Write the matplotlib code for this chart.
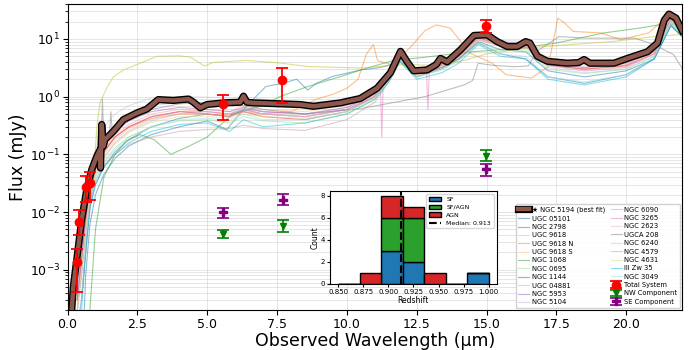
import numpy as np
import matplotlib
matplotlib.use("Agg")
import matplotlib.pyplot as plt
import matplotlib.patheffects as pe

# ---------------- data ----------------
bf_wave = [0.15, 0.21, 0.33, 0.51, 0.69, 0.87, 1.05, 1.165, 1.18, 1.225, 1.28, 1.34, 1.64, 2.0, 2.48,
           2.84, 3.25, 3.79, 4.33, 4.51, 4.75, 4.99, 5.58, 6.18, 6.30, 6.42, 6.66, 8.33, 8.80, 9.77,
           10.48, 11.08, 11.56, 11.92, 12.16, 12.39, 12.87, 13.20, 13.35, 13.59, 14.07, 14.55, 15.02,
           15.38, 15.74, 16.10, 16.40, 16.55, 16.82, 17.18, 17.89, 18.30, 18.49, 18.70, 19.56, 20.04,
           20.76, 21.12, 21.36, 21.53, 21.78, 22.0]
bf_flux = [2.0e-4, 5.2e-4, 1.5e-3, 7.5e-3, 0.025, 0.055, 0.093, 0.12, 0.058, 0.33, 0.138, 0.18, 0.25,
           0.40, 0.52, 0.61, 0.89, 0.86, 0.91, 0.80, 0.64, 0.73, 0.78, 0.80, 1.02, 0.80, 0.78, 0.73,
           0.68, 0.78, 0.93, 1.4, 2.6, 6.1, 4.0, 2.8, 2.9, 3.6, 4.6, 4.0, 6.5, 11.5, 11.8, 9.0, 7.4,
           7.4, 9.0, 8.5, 5.0, 4.1, 3.8, 3.9, 4.4, 3.8, 3.8, 4.6, 6.0, 8.5, 21.0, 27.0, 23.0, 14.0]

tmpl_wave = [0.35, 0.5, 0.65, 0.8, 1.0, 1.3, 1.7, 2.2, 3.0, 4.0, 5.0, 5.8, 6.3, 7.0, 8.5, 10.0, 11.0,
             11.5, 11.9, 12.5, 13.4, 14.0, 14.7, 15.5, 16.4, 17.2, 18.5, 20.0, 21.0, 21.6, 22.0]

ugc05101_wave = [0.6, 0.65, 0.8, 1.0, 1.3, 1.7, 2.2, 3.0, 4.0, 5.0, 5.7, 6.4, 7.1, 7.7, 8.2, 8.6, 8.9,
                 9.5, 10.5, 11.2, 11.9, 12.5, 13.4, 14.0, 14.7, 15.5, 16.4, 17.2, 18.5, 20.0, 21.0,
                 21.6, 22.0]
ugc05101_flux = [2e-4, 8e-4, 6e-3, 0.02, 0.045, 0.085, 0.14, 0.22, 0.30, 0.38, 0.27, 0.68, 1.5, 1.7,
                 2.0, 1.3, 1.7, 2.25, 2.9, 3.2, 4.0, 2.6, 3.2, 4.5, 8.5, 5.5, 4.5, 2.2, 1.7, 2.4, 4.5,
                 17.0, 11.0]
ngc2798_flux = [1e-4, 3e-4, 2e-3, 0.012, 0.03, 0.06, 0.11, 0.18, 0.30, 0.42, 0.50, 0.45, 0.60, 0.50,
                0.45, 0.60, 1.0, 2.0, 4.5, 2.2, 3.2, 4.5, 9.0, 6.5, 6.0, 2.8, 2.2, 2.8, 4.5, 17.0, 11.0]
ugc9618_flux = [2e-4, 8e-4, 5e-3, 0.02, 0.045, 0.09, 0.16, 0.25, 0.38, 0.50, 0.55, 0.50, 0.65, 0.55,
                0.50, 0.65, 1.0, 2.2, 5.0, 2.5, 3.5, 5.0, 10.0, 7.5, 7.0, 3.2, 2.6, 3.0, 5.0, 20.0, 13.0]
ugc9618n_wave = [0.35, 0.5, 0.65, 0.8, 1.0, 1.3, 1.7, 2.2, 3.0, 4.0, 5.0, 5.8, 6.3, 7.0, 8.0, 8.9, 9.5,
                 10.0, 10.4, 10.7, 10.95, 11.1, 11.6, 12.3, 12.8, 13.2, 13.7, 14.4, 15.2, 15.7, 16.6,
                 17.2, 17.4, 17.55, 17.8, 18.1, 19.1, 19.8, 20.8, 21.2, 21.6, 22.0]
ugc9618n_flux = [3e-4, 1.5e-3, 7e-3, 0.025, 0.055, 0.11, 0.20, 0.30, 0.42, 0.50, 0.50, 0.48, 0.55,
                 0.50, 0.55, 0.9, 1.1, 1.4, 2.0, 5.5, 8.0, 4.2, 3.6, 7.4, 14.0, 17.5, 15.4, 5.7, 3.8,
                 2.4, 2.1, 3.3, 9.7, 23.0, 18.8, 13.5, 12.7, 9.7, 12.7, 18.8, 22.0, 16.0]
ugc9618s_flux = [3e-4, 1.2e-3, 6e-3, 0.022, 0.05, 0.10, 0.18, 0.28, 0.42, 0.55, 0.60, 0.55, 0.70, 0.60,
                 0.55, 0.70, 1.1, 2.3, 5.0, 2.6, 3.6, 5.2, 10.0, 8.0, 8.0, 3.6, 3.0, 3.5, 5.5, 21.0, 14.0]
ngc1068_wave = [0.8, 1.0, 1.3, 1.7, 2.1, 2.6, 3.1, 3.7, 4.3, 5.0, 5.9, 6.9, 7.6, 8.6, 9.8, 10.5, 11.7,
                12.6, 13.5, 14.5, 16.2, 17.5, 19.2, 20.5, 21.2, 22.0]
ngc1068_flux = [2e-4, 5e-3, 0.04, 0.10, 0.17, 0.22, 0.18, 0.10, 0.135, 0.20, 0.50, 0.68, 1.0, 1.5, 2.25,
                2.9, 4.3, 4.7, 5.3, 6.0, 6.9, 8.5, 12.7, 15.5, 17.6, 18.5]
ngc0695_flux = [2e-4, 1e-3, 5e-3, 0.018, 0.04, 0.075, 0.13, 0.20, 0.30, 0.38, 0.40, 0.35, 0.45, 0.38,
                0.35, 0.50, 0.9, 1.8, 4.0, 2.2, 3.0, 4.2, 8.5, 6.5, 6.5, 3.0, 2.5, 3.0, 5.0, 19.0, 12.0]
ngc1144_flux = [3e-4, 1.5e-3, 7e-3, 0.025, 0.055, 0.11, 0.20, 0.30, 0.45, 0.55, 0.50, 0.45, 0.55, 0.45,
                0.40, 0.55, 1.0, 2.2, 5.5, 2.6, 3.5, 5.0, 10.5, 8.0, 7.5, 3.5, 3.0, 3.4, 5.5, 22.0, 14.0]
ugc04881_flux = [4e-4, 2e-3, 8e-3, 0.028, 0.06, 0.12, 0.22, 0.33, 0.50, 0.60, 0.55, 0.50, 0.60, 0.50,
                 0.45, 0.60, 1.05, 2.3, 5.5, 2.7, 3.6, 5.2, 11.0, 8.5, 8.0, 3.8, 3.2, 3.6, 6.0, 23.0, 15.0]
ngc5953_flux = [3e-4, 1.5e-3, 8e-3, 0.03, 0.07, 0.14, 0.25, 0.38, 0.55, 0.65, 0.60, 0.55, 0.65, 0.55,
                0.50, 0.65, 1.1, 2.4, 5.5, 2.7, 3.8, 5.5, 11.0, 8.5, 8.5, 3.8, 3.2, 3.8, 6.0, 22.0, 15.0]
ngc5104_flux = [4e-4, 2e-3, 1e-2, 0.035, 0.08, 0.16, 0.30, 0.45, 0.70, 0.80, 0.75, 0.70, 0.85, 0.70,
                0.65, 0.75, 1.1, 2.5, 5.8, 2.8, 4.0, 5.8, 11.5, 9.0, 8.5, 4.2, 3.6, 4.2, 6.0, 24.0, 16.0]
ngc6090_flux = [2e-4, 8e-4, 4e-3, 0.015, 0.035, 0.065, 0.10, 0.15, 0.20, 0.25, 0.27, 0.28, 0.32, 0.28,
                0.26, 0.40, 0.8, 1.8, 4.2, 2.2, 3.0, 4.5, 9.5, 7.5, 7.5, 3.5, 2.8, 3.2, 5.5, 20.0, 13.0]
ngc3265_wave = [0.35, 0.5, 0.65, 0.8, 1.0, 1.3, 1.7, 2.2, 3.0, 4.0, 5.0, 5.8, 6.3, 7.0, 8.5, 10.0, 11.0,
                11.2, 11.25, 11.3, 11.5, 11.9, 12.5, 12.85, 12.9, 12.95, 13.4, 14.0, 14.7, 15.5, 16.4,
                17.2, 18.5, 20.0, 21.0, 21.6, 22.0]
ngc3265_flux = [3e-4, 1.5e-3, 7e-3, 0.025, 0.055, 0.11, 0.20, 0.30, 0.45, 0.55, 0.55, 0.50, 0.60, 0.55,
                0.50, 0.60, 1.0, 1.5, 0.2, 1.6, 2.1, 5.0, 2.4, 2.6, 0.6, 2.7, 3.3, 4.8, 10.0, 8.0, 8.0,
                3.6, 3.0, 3.5, 5.5, 22.0, 14.0]
ngc2623_flux = [2e-4, 1e-3, 5e-3, 0.02, 0.045, 0.09, 0.16, 0.26, 0.40, 0.50, 0.50, 0.45, 0.55, 0.50,
                0.45, 0.60, 1.0, 2.1, 4.8, 2.4, 3.3, 4.8, 9.5, 7.5, 7.5, 3.4, 2.8, 3.3, 5.5, 21.0, 14.0]
ugca208_wave = [0.5, 0.7, 0.9, 1.0, 1.1, 1.2, 1.25, 1.3, 1.5, 1.55, 1.6, 2.0, 3.0, 4.0, 5.0, 6.0, 7.0,
                8.5, 10.5, 12.8, 14.2, 14.5, 14.7, 15.2, 16.0, 16.5, 16.8, 17.6, 18.6, 20.3, 21.0,
                21.7, 22.0]
ugca208_flux = [3e-4, 4e-3, 0.03, 0.07, 0.10, 0.12, 0.9, 0.15, 0.20, 0.55, 0.25, 0.35, 0.60, 0.75,
                0.80, 0.75, 0.60, 0.50, 0.62, 1.0, 1.6, 1.9, 3.8, 3.5, 3.3, 3.4, 6.1, 11.0, 10.3, 10.3,
                8.0, 5.3, 3.1]
ngc6240_flux = [5e-4, 3e-3, 0.015, 0.05, 0.12, 0.30, 0.50, 0.70, 0.95, 1.0, 0.98, 0.95, 1.0, 0.90,
                0.80, 0.85, 1.2, 2.5, 5.5, 3.0, 4.0, 6.0, 11.0, 9.5, 9.0, 4.5, 4.0, 4.5, 6.5, 20.0, 14.0]
ngc4579_wave = [0.92, 0.97, 1.05, 1.16, 1.4, 1.64, 2.0, 2.6, 3.2, 4.0, 4.4, 4.9, 5.2, 6.4, 7.6, 8.6,
                10.5, 12.0, 13.0, 14.0, 15.0, 16.5, 18.0, 19.5, 21.0, 22.0]
ngc4579_flux = [0.03, 0.08, 0.30, 0.78, 1.4, 2.2, 2.9, 3.8, 5.0, 5.1, 4.85, 3.4, 3.9, 4.25, 3.83, 3.33,
                3.13, 3.6, 3.5, 4.0, 5.5, 7.0, 8.0, 9.0, 11.0, 12.0]
ngc4631_flux = [2e-4, 1e-3, 5e-3, 0.02, 0.045, 0.085, 0.15, 0.24, 0.36, 0.45, 0.45, 0.42, 0.50, 0.45,
                0.42, 0.55, 0.95, 2.0, 4.8, 2.4, 3.4, 5.0, 10.0, 8.0, 7.8, 3.8, 3.4, 4.0, 6.0, 20.0, 14.0]
iiizw35_flux = [1e-4, 2e-4, 2e-3, 0.012, 0.03, 0.06, 0.10, 0.16, 0.25, 0.33, 0.35, 0.25, 0.40, 0.30,
                0.35, 0.50, 0.9, 1.8, 4.0, 2.0, 2.6, 3.8, 8.0, 5.0, 4.5, 2.0, 1.6, 2.2, 4.5, 18.0, 11.0]
ngc3049_flux = [1e-4, 3e-4, 3e-3, 0.015, 0.035, 0.07, 0.12, 0.20, 0.30, 0.40, 0.42, 0.38, 0.50, 0.40,
                0.40, 0.55, 0.95, 2.0, 4.5, 2.2, 2.9, 4.2, 8.5, 5.5, 5.0, 2.2, 1.8, 2.4, 4.8, 19.0, 12.0]

template_names = ["UGC 05101", "NGC 2798", "UGC 9618", "UGC 9618 N", "UGC 9618 S", "NGC 1068",
                  "NGC 0695", "NGC 1144", "UGC 04881", "NGC 5953", "NGC 5104", "NGC 6090",
                  "NGC 3265", "NGC 2623", "UGCA 208", "NGC 6240", "NGC 4579", "NGC 4631",
                  "III Zw 35", "NGC 3049"]
template_colors = ["#1f77b4", "#1f77b4", "#aec7e8", "#ff7f0e", "#ffbb78", "#2ca02c", "#98df8a",
                   "#d62728", "#ff9896", "#9467bd", "#c5b0d5", "#c49c94", "#e377c2", "#f7b6d2",
                   "#7f7f7f", "#c7c7c7", "#bcbd22", "#dbdb8d", "#17becf", "#9edae5"]
template_waves = [ugc05101_wave, tmpl_wave, tmpl_wave, ugc9618n_wave, tmpl_wave, ngc1068_wave,
                  tmpl_wave, tmpl_wave, tmpl_wave, tmpl_wave, tmpl_wave, tmpl_wave, ngc3265_wave,
                  tmpl_wave, ugca208_wave, tmpl_wave, ngc4579_wave, tmpl_wave, tmpl_wave, tmpl_wave]
template_fluxes = [ugc05101_flux, ngc2798_flux, ugc9618_flux, ugc9618n_flux, ugc9618s_flux,
                   ngc1068_flux, ngc0695_flux, ngc1144_flux, ugc04881_flux, ngc5953_flux,
                   ngc5104_flux, ngc6090_flux, ngc3265_flux, ngc2623_flux, ugca208_flux,
                   ngc6240_flux, ngc4579_flux, ngc4631_flux, iiizw35_flux, ngc3049_flux]

tot_wave = [0.33, 0.42, 0.65, 0.80, 5.58, 7.69, 14.99]
tot_flux = [1.38e-3, 6.6e-3, 0.027, 0.032, 0.75, 1.95, 16.9]
tot_lo = [4.2e-4, 4.0e-3, 0.015, 0.016, 0.40, 0.78, 12.6]
tot_hi = [2.3e-3, 1.1e-2, 0.043, 0.049, 1.05, 3.1, 21.5]

nw_wave = [5.58, 7.71, 14.99]
nw_flux = [4.1e-3, 5.7e-3, 0.093]
nw_lo = [3.5e-3, 4.6e-3, 0.076]
nw_hi = [4.9e-3, 7.2e-3, 0.12]

se_wave = [5.58, 7.71, 14.99]
se_flux = [0.0100, 0.0165, 0.056]
se_lo = [0.0080, 0.0132, 0.043]
se_hi = [0.0116, 0.0205, 0.069]

z_sf = [0.897, 0.905, 0.910, 0.920, 0.928, 0.990]
z_sfagn = [0.898, 0.903, 0.908, 0.915, 0.918, 0.925, 0.932]
z_agn = [0.880, 0.900, 0.911, 0.930, 0.945]
z_bins = np.linspace(0.85, 1.0, 8)

# ---------------- plot ----------------
fig = plt.figure(figsize=(6.89, 3.5), dpi=100)
ax = fig.add_axes([0.098, 0.114, 0.892, 0.874])

for name, col, w, f in zip(template_names, template_colors, template_waves, template_fluxes):
    ax.plot(w, f, color=col, lw=0.8, alpha=0.5, label=name, zorder=2)

ax.plot(bf_wave, bf_flux, color="#8c564b", lw=3.2, zorder=4,
        label="\u2605 NGC 5194 (best fit)",
        path_effects=[pe.Stroke(linewidth=5.2, foreground="black"), pe.Normal()])

def yerr(v, lo, hi):
    v = np.array(v); return [v - np.array(lo), np.array(hi) - v]

ax.errorbar(tot_wave, tot_flux, yerr=yerr(tot_flux, tot_lo, tot_hi), fmt="o", color="red",
            ms=6, capsize=4, elinewidth=1.3, capthick=1.3, label="Total System", zorder=6)
ax.errorbar(nw_wave, nw_flux, yerr=yerr(nw_flux, nw_lo, nw_hi), fmt="v", color="green",
            ms=5, capsize=4, elinewidth=1.2, capthick=1.2, label="NW Component", zorder=6)
ax.errorbar(se_wave, se_flux, yerr=yerr(se_flux, se_lo, se_hi), fmt="P", color="purple",
            ms=6, capsize=4, elinewidth=1.2, capthick=1.2, label="SE Component", zorder=6)

ax.set_yscale("log")
ax.set_xlim(0, 22.0)
ax.set_ylim(2.0e-4, 40)
ax.grid(True, which="both", color="#cccccc", lw=0.6, alpha=0.6)
ax.set_xlabel("Observed Wavelength (\u00b5m)", fontsize=12.5, labelpad=1)
ax.set_ylabel("Flux (mJy)", fontsize=12.5, labelpad=2)
ax.tick_params(labelsize=9, pad=2)

handles, labels = ax.get_legend_handles_labels()
order = [20] + list(range(20)) + [21, 22, 23]
ax.legend([handles[i] for i in order], [labels[i] for i in order], ncol=2, fontsize=4.9,
          loc="lower right", borderaxespad=0.3, labelspacing=0.35, handlelength=1.6,
          handletextpad=0.4, columnspacing=0.8, framealpha=0.9)

# inset histogram
ins = fig.add_axes([0.479, 0.189, 0.242, 0.265])
ins.hist([z_sf, z_sfagn, z_agn], bins=z_bins, stacked=True,
         color=["#1f77b4", "#2ca02c", "#d62728"], edgecolor="black", linewidth=1.0,
         label=["SF", "SF/AGN", "AGN"])
med = np.median(z_sf + z_sfagn + z_agn)
ins.axvline(med, color="black", ls="--", lw=1.5, label=f"Median: {med:.3f}")
ins.set_xlim(0.842, 1.008)
ins.set_ylim(0, 8.4)
ins.set_xticks([0.85, 0.875, 0.9, 0.925, 0.95, 0.975, 1.0])
ins.set_yticks([0, 2, 4, 6, 8])
ins.tick_params(labelsize=5, length=2, pad=1.5)
ins.set_xlabel("Redshift", fontsize=5.5, labelpad=1)
ins.set_ylabel("Count", fontsize=5.5, labelpad=1)
ins.legend(fontsize=4.5, loc="upper right", handlelength=2.0, labelspacing=0.4)

fig.savefig("out.png", dpi=100)
